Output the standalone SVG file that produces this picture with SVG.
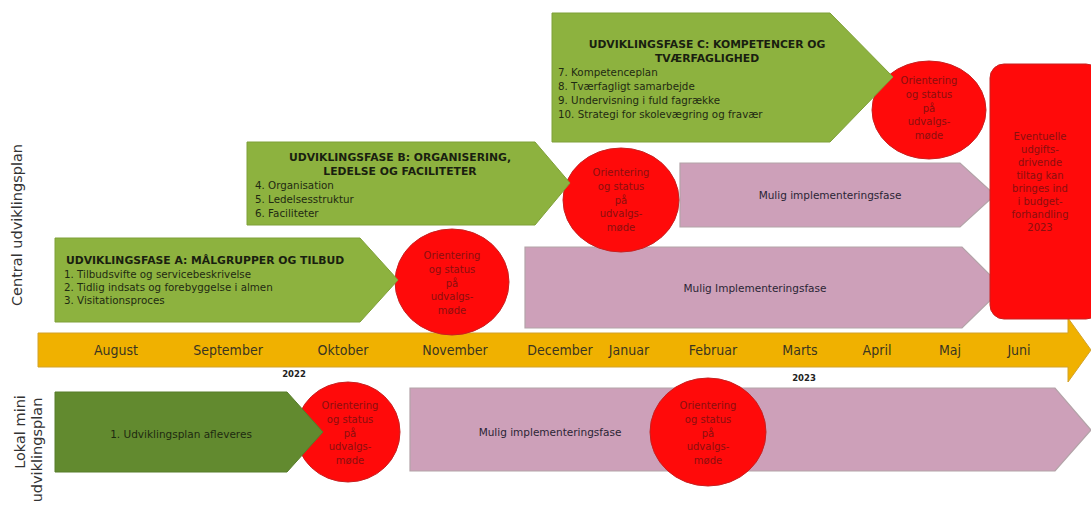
<svg xmlns="http://www.w3.org/2000/svg" width="1091" height="508" viewBox="0 0 1091 508">
<style>
.bg{fill:#ffffff}
.green{fill:#8DB23F;stroke:#7FA038;stroke-width:1}
.dgreen{fill:#628A2F;stroke:#577C2A;stroke-width:1}
.pink{fill:#CDA0B9;stroke:#B3A3A8;stroke-width:1.2}
.red{fill:#FF0A0A;stroke:#C82020;stroke-width:1}
.tl{fill:#F0B100;stroke:#D2A22A;stroke-width:1}
.title{font-family:"DejaVu Sans",Verdana,sans-serif;font-weight:bold;font-size:10.8px;fill:#1A1F10}
.item{font-family:"DejaVu Sans",Verdana,sans-serif;font-size:10.3px;fill:#1F2A12}
.ctext{font-family:"DejaVu Sans",Verdana,sans-serif;font-size:10px;fill:#8A0F0F;text-anchor:middle}
.ptext{font-family:"DejaVu Sans",Verdana,sans-serif;font-size:10.5px;fill:#2B2535;text-anchor:middle}
.gtext{font-family:"DejaVu Sans",Verdana,sans-serif;font-size:10.5px;fill:#1E2A10;text-anchor:middle}
.month{font-family:"DejaVu Sans Condensed","DejaVu Sans",sans-serif;font-size:14px;fill:#3A3520;text-anchor:middle}
.year{font-family:"DejaVu Sans",sans-serif;font-weight:bold;font-size:8.5px;fill:#222;text-anchor:middle}
.side{font-family:"DejaVu Sans","Open Sans",sans-serif;font-size:14.5px;fill:#333;text-anchor:middle}
</style>
<rect class="bg" x="0" y="0" width="1091" height="508"/>

<g id="timeline">
<polygon class="tl" points="38,333 1068,333 1068,318 1091,350 1068,382 1068,367 38,367"/>
<text class="month" x="116" y="355">August</text>
<text class="month" x="228" y="355">September</text>
<text class="month" x="343" y="355">Oktober</text>
<text class="month" x="455" y="355">November</text>
<text class="month" x="560" y="355">December</text>
<text class="month" x="629" y="355">Januar</text>
<text class="month" x="713" y="355">Februar</text>
<text class="month" x="800" y="355">Marts</text>
<text class="month" x="877" y="355">April</text>
<text class="month" x="950" y="355">Maj</text>
<text class="month" x="1019" y="355">Juni</text>
<text class="year" x="294" y="377">2022</text>
<text class="year" x="804" y="381">2023</text>
</g>

<g id="side-labels">
<text class="side" transform="translate(22,225) rotate(-90)">Central udviklingsplan</text>
<text class="side" transform="translate(25,432) rotate(-90)">Lokal mini</text>
<text class="side" transform="translate(42,450) rotate(-90)">udviklingsplan</text>
</g>

<g id="pink-top">
<polygon class="pink" points="680,163 960,163 995,195 960,227 680,227"/>
<text class="ptext" x="830" y="199">Mulig implementeringsfase</text>
</g>
<g id="pink-mid">
<polygon class="pink" points="525,247 962,247 1003,288 962,328 525,328"/>
<text class="ptext" x="755" y="292">Mulig Implementeringsfase</text>
</g>
<g id="pink-bottom">
<polygon class="pink" points="410,388 1055,388 1091,430 1055,471 410,471"/>
<text class="ptext" x="550" y="436">Mulig implementeringsfase</text>
</g>

<g id="circle-a">
<ellipse class="red" cx="452" cy="282" rx="57" ry="53"/>
<text class="ctext" x="452" y="259">Orientering</text>
<text class="ctext" x="452" y="273">og status</text>
<text class="ctext" x="452" y="287">på</text>
<text class="ctext" x="452" y="300">udvalgs-</text>
<text class="ctext" x="452" y="314">møde</text>
</g>
<g id="circle-b">
<ellipse class="red" cx="621" cy="200" rx="58" ry="52"/>
<text class="ctext" x="621" y="176">Orientering</text>
<text class="ctext" x="621" y="190">og status</text>
<text class="ctext" x="621" y="204">på</text>
<text class="ctext" x="621" y="217">udvalgs-</text>
<text class="ctext" x="621" y="231">møde</text>
</g>
<g id="circle-c">
<ellipse class="red" cx="929" cy="110" rx="57" ry="49"/>
<text class="ctext" x="929" y="84">Orientering</text>
<text class="ctext" x="929" y="98">og status</text>
<text class="ctext" x="929" y="112">på</text>
<text class="ctext" x="929" y="125">udvalgs-</text>
<text class="ctext" x="929" y="139">møde</text>
</g>
<g id="circle-local-1">
<ellipse class="red" cx="348" cy="432" rx="52" ry="50"/>
<text class="ctext" x="350" y="409">Orientering</text>
<text class="ctext" x="350" y="423">og status</text>
<text class="ctext" x="350" y="437">på</text>
<text class="ctext" x="350" y="450">udvalgs-</text>
<text class="ctext" x="350" y="464">møde</text>
</g>
<g id="circle-local-2">
<ellipse class="red" cx="708" cy="432" rx="58" ry="54"/>
<text class="ctext" x="708" y="409">Orientering</text>
<text class="ctext" x="708" y="423">og status</text>
<text class="ctext" x="708" y="437">på</text>
<text class="ctext" x="708" y="450">udvalgs-</text>
<text class="ctext" x="708" y="464">møde</text>
</g>

<g id="budget">
<rect class="red" x="990" y="64" width="110" height="255" rx="14" ry="14"/>
<text class="ctext" x="1040" y="140">Eventuelle</text>
<text class="ctext" x="1040" y="153">udgifts-</text>
<text class="ctext" x="1040" y="166">drivende</text>
<text class="ctext" x="1040" y="179">tiltag kan</text>
<text class="ctext" x="1040" y="192">bringes ind</text>
<text class="ctext" x="1040" y="205">i budget-</text>
<text class="ctext" x="1040" y="218">forhandling</text>
<text class="ctext" x="1040" y="231">2023</text>
</g>

<g id="fase-a">
<polygon class="green" points="55,238 360,238 398,280 360,322 55,322"/>
<text class="title" x="66" y="264">UDVIKLINGSFASE A: MÅLGRUPPER OG TILBUD</text>
<text class="item" x="64" y="278">1. Tilbudsvifte og servicebeskrivelse</text>
<text class="item" x="64" y="291">2. Tidlig indsats og forebyggelse i almen</text>
<text class="item" x="64" y="304">3. Visitationsproces</text>
</g>
<g id="fase-b">
<polygon class="green" points="247,142 535,142 570,183 535,225 247,225"/>
<text class="title" x="400" y="161" text-anchor="middle">UDVIKLINGSFASE B: ORGANISERING,</text>
<text class="title" x="400" y="175" text-anchor="middle">LEDELSE OG FACILITETER</text>
<text class="item" x="255" y="189">4. Organisation</text>
<text class="item" x="255" y="203">5. Ledelsesstruktur</text>
<text class="item" x="255" y="217">6. Faciliteter</text>
</g>
<g id="fase-c">
<polygon class="green" points="552,13 830,13 893,77 830,142 552,142"/>
<text class="title" x="707" y="48" text-anchor="middle">UDVIKLINGSFASE C: KOMPETENCER OG</text>
<text class="title" x="707" y="62" text-anchor="middle">TVÆRFAGLIGHED</text>
<text class="item" x="558" y="76">7. Kompetenceplan</text>
<text class="item" x="558" y="90">8. Tværfagligt samarbejde</text>
<text class="item" x="558" y="104">9. Undervisning i fuld fagrække</text>
<text class="item" x="558" y="118">10. Strategi for skolevægring og fravær</text>
</g>
<g id="local-plan">
<polygon class="dgreen" points="55,392 287,392 323,432 287,472 55,472"/>
<text class="gtext" x="181" y="438">1. Udviklingsplan afleveres</text>
</g>

<g id="connectors"></g>
</svg>
